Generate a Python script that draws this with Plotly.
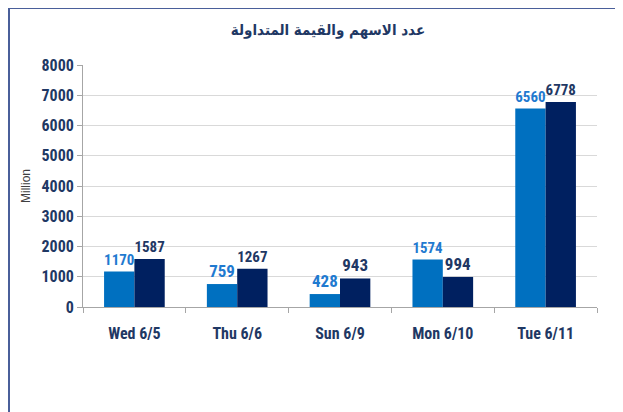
import plotly.graph_objects as go

categories = ["Wed 6/5", "Thu 6/6", "Sun 6/9", "Mon 6/10", "Tue 6/11"]
series_a = [1170, 759, 428, 1574, 6560]
series_b = [1587, 1267, 943, 994, 6778]
y_ticks = [0, 1000, 2000, 3000, 4000, 5000, 6000, 7000, 8000]
title_text = "عدد الاسهم والقيمة المتداولة"
y_title = "Million"

FONT = "Liberation Sans Narrow, Arial Narrow, Roboto Condensed, Liberation Sans, Arial, sans-serif"

fig = go.Figure()
fig.add_trace(go.Bar(
    x=categories, y=series_a, marker=dict(color="#0070C0", line=dict(width=0)),
    text=[str(v) for v in series_a], textposition="outside", cliponaxis=False,
    textfont=dict(family=FONT, size=17, color="#1F7AD0", weight="bold"),
))
fig.add_trace(go.Bar(
    x=categories, y=series_b, marker=dict(color="#002060", line=dict(width=0)),
    text=[str(v) for v in series_b], textposition="outside", cliponaxis=False,
    textfont=dict(family=FONT, size=17, color="#1F3864", weight="bold"),
))

# page offset of 8px (default body margin)
W, H = 615, 404
L, R, T, B = 75, 26, 57, 105
pw = W - L - R
ph = H - T - B

fig.update_layout(
    width=W, height=H,
    margin=dict(l=L, r=R, t=T, b=B),
    paper_bgcolor="white", plot_bgcolor="white",
    showlegend=False,
    barmode="group", bargap=0.41, bargroupgap=0,
    title=dict(text="<b>" + title_text + "</b>", x=320 / W, xanchor="center",
               y=1 - 22 / H, yanchor="middle",
               font=dict(family="DejaVu Sans Condensed, DejaVu Sans, Noto Sans, sans-serif", size=15, color="#1F3864")),
    xaxis=dict(
        type="category", showgrid=False, showline=True, linecolor="#A6A6A6", linewidth=1,
        ticks="outside", tickson="boundaries", ticklen=5, tickcolor="#A6A6A6",
        tickfont=dict(family=FONT, size=16, color="#1F3864", weight="bold"),
        ticklabelstandoff=12,
    ),
    yaxis=dict(
        range=[0, 8000], tickvals=y_ticks, showgrid=True, gridcolor="#D9D9D9", gridwidth=1,
        showline=True, linecolor="#A6A6A6", linewidth=1, zeroline=False,
        ticks="outside", ticklen=5, tickcolor="#A6A6A6",
        tickfont=dict(family=FONT, size=16, color="#1F3864", weight="bold"),
        title=dict(text=y_title, font=dict(family="Liberation Sans, Arial, sans-serif", size=12, color="#404040"), standoff=8),
    ),
    font=dict(family=FONT),
)

# chart frame (left and top border)
x_left = (1 - L) / pw
y_top = 1 + (T - 0) / ph
fig.add_shape(type="line", xref="paper", yref="paper", x0=x_left, x1=x_left, y0=y_top, y1=-B / ph - 0.01,
              line=dict(color="#4A5F9A", width=2))
fig.add_shape(type="line", xref="paper", yref="paper", x0=x_left, x1=1 + R / pw + 0.01, y0=y_top, y1=y_top,
              line=dict(color="#4A5F9A", width=2))

fig.write_html("out.html")
